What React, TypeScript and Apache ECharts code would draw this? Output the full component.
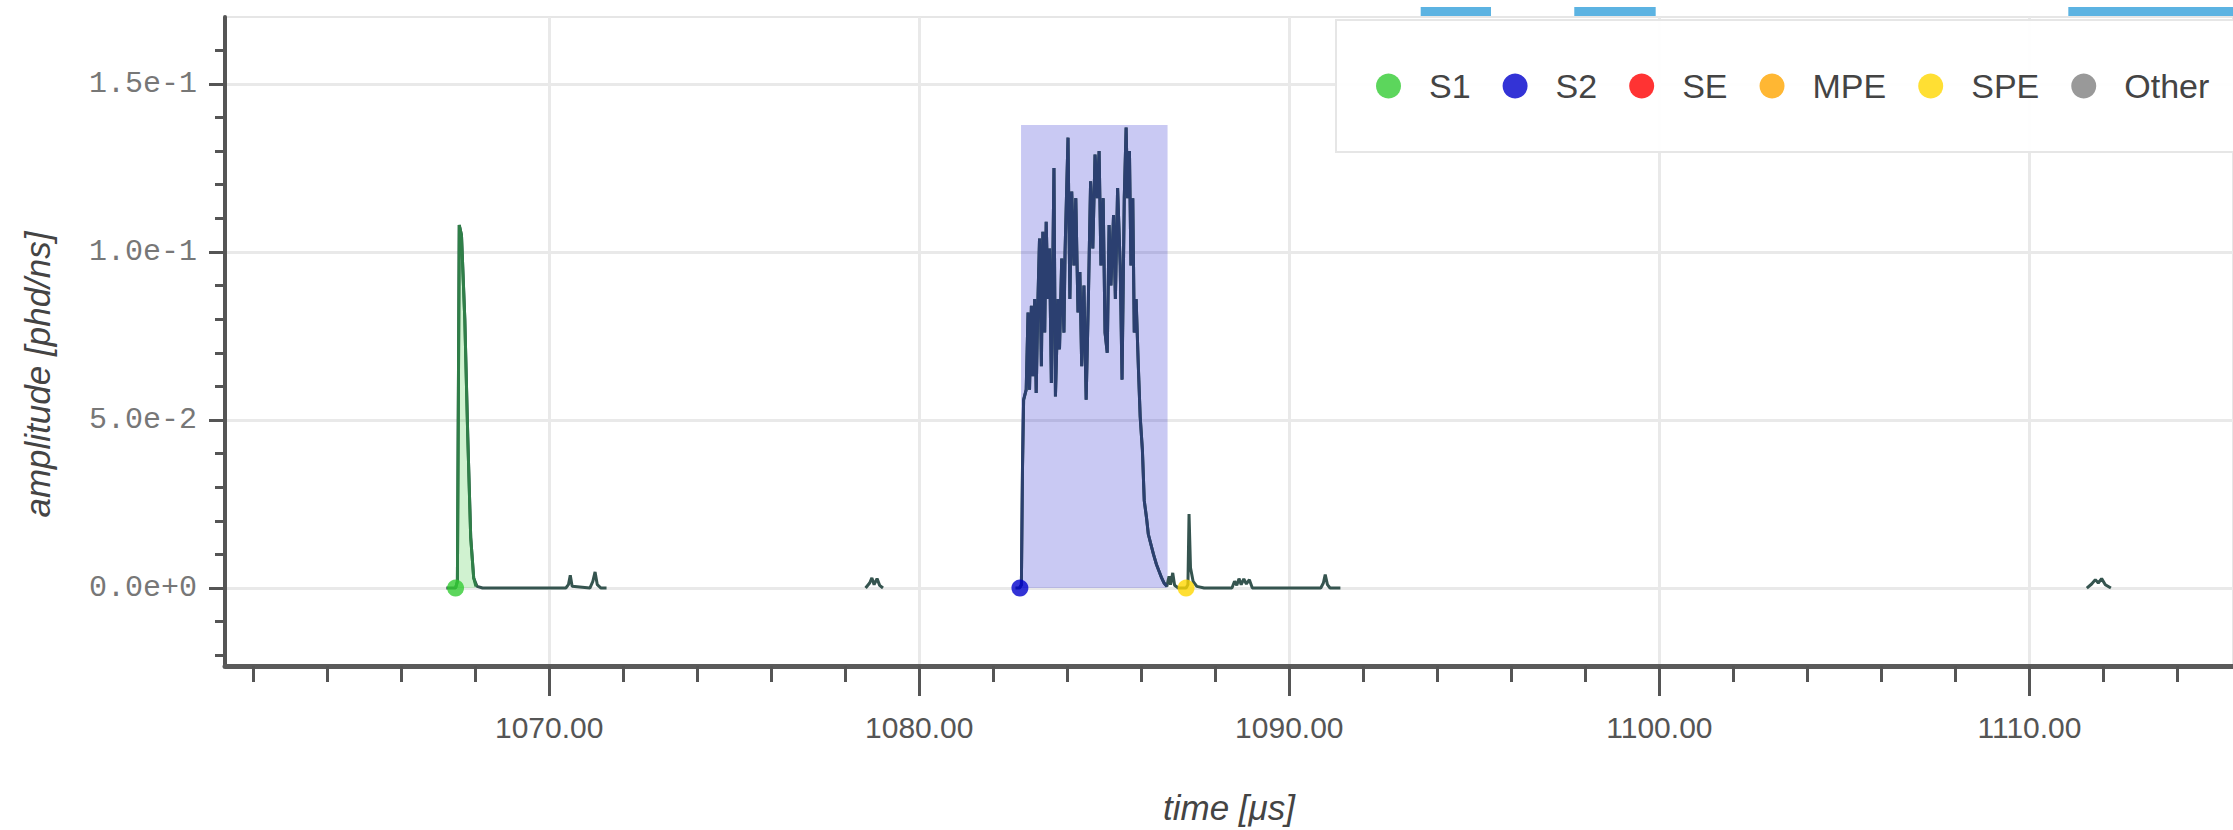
import React, { useEffect, useRef } from "react";
import * as echarts from "echarts";

// ---- axis ranges and ticks ----
const xMin = 1061.24;
const xMax = 1115.5;
const yMin = -0.0232;
const yMax = 0.1699;
const xMajorTicks = [1070, 1080, 1090, 1100, 1110];
const xMinorTicks = [1062, 1064, 1066, 1068, 1072, 1074, 1076, 1078, 1082, 1084, 1086, 1088, 1092, 1094, 1096, 1098, 1102, 1104, 1106, 1108, 1112, 1114];
const yMajorTicks = [0, 0.05, 0.1, 0.15];
const yMinorTicks = [-0.02, -0.01, 0.01, 0.02, 0.03, 0.04, 0.06, 0.07, 0.08, 0.09, 0.11, 0.12, 0.13, 0.14, 0.16];

// ---- legend ----
const legendNames = ["S1", "S2", "SE", "MPE", "SPE", "Other"];
const legendColors = ["#33cc33", "#0000cc", "#ff0000", "#ffa500", "#ffd700", "#808080"];

// ---- peak start markers (time, amplitude) ----
const s1Points = [[1067.47, 0]];
const s2Points = [[1082.72, 0]];
const spePoints = [[1087.21, 0]];

// ---- S2 highlight box [start, end, top] ----
const s2Box = [1082.75, 1086.71, 0.1378];

// ---- interval bars above the plot [start, end] ----
const topBars = [
  [1093.55, 1095.45],
  [1097.7, 1099.9],
  [1111.05, 1116.5],
];

// ---- summed waveform segments (time us, amplitude phd/ns) ----
const waveSegA = [
  [1067.22, 0], [1067.47, 0], [1067.52, 0.002], [1067.57, 0.108], [1067.63, 0.105],
  [1067.72, 0.08], [1067.8, 0.045], [1067.88, 0.015], [1067.96, 0.003], [1068.05, 0.0005],
  [1068.2, 0], [1070.45, 0], [1070.52, 0.001], [1070.57, 0.0038], [1070.62, 0.0005],
  [1071.1, 0], [1071.18, 0.002], [1071.24, 0.0048], [1071.3, 0.001], [1071.4, 0], [1071.55, 0],
];
const waveSegB = [
  [1078.55, 0], [1078.66, 0.0015], [1078.72, 0.003], [1078.78, 0.001], [1078.86, 0.0028],
  [1078.93, 0.0008], [1079.02, 0],
];
const s2Wave = [
  [1082.71, 0], [1082.76, 0.001], [1082.79, 0.036], [1082.82, 0.056], [1082.89, 0.059],
  [1082.94, 0.082], [1082.98, 0.059], [1083.03, 0.084], [1083.07, 0.063], [1083.12, 0.086],
  [1083.16, 0.058], [1083.21, 0.087], [1083.25, 0.104], [1083.3, 0.066], [1083.34, 0.106],
  [1083.39, 0.076], [1083.43, 0.109], [1083.48, 0.086], [1083.52, 0.101], [1083.57, 0.061],
  [1083.64, 0.125], [1083.68, 0.057], [1083.75, 0.086], [1083.79, 0.071], [1083.85, 0.098],
  [1083.91, 0.076], [1083.94, 0.1], [1084.02, 0.134], [1084.07, 0.086], [1084.12, 0.118],
  [1084.18, 0.096], [1084.23, 0.116], [1084.29, 0.082], [1084.34, 0.094], [1084.39, 0.066],
  [1084.45, 0.09], [1084.51, 0.056], [1084.57, 0.086], [1084.63, 0.121], [1084.69, 0.101],
  [1084.75, 0.129], [1084.81, 0.116], [1084.86, 0.13], [1084.91, 0.096], [1084.97, 0.116],
  [1085.02, 0.076], [1085.08, 0.07], [1085.13, 0.108], [1085.18, 0.09], [1085.25, 0.111],
  [1085.3, 0.086], [1085.36, 0.119], [1085.43, 0.096], [1085.48, 0.062], [1085.54, 0.116],
  [1085.59, 0.137], [1085.63, 0.116], [1085.68, 0.13], [1085.72, 0.096], [1085.77, 0.116],
  [1085.81, 0.076], [1085.86, 0.086], [1085.92, 0.066], [1085.97, 0.051], [1086.03, 0.041],
  [1086.08, 0.026], [1086.14, 0.021], [1086.19, 0.016], [1086.26, 0.013], [1086.33, 0.01],
  [1086.41, 0.007], [1086.48, 0.005], [1086.55, 0.003], [1086.62, 0.0014], [1086.69, 0.0005],
];
const waveSegCTail = [
  [1086.75, 0.0035], [1086.79, 0.001], [1086.85, 0.0045], [1086.9, 0.0008], [1087.0, 0],
  [1087.21, 0], [1087.26, 0.001], [1087.29, 0.022], [1087.33, 0.006], [1087.4, 0.002],
  [1087.5, 0.0005], [1087.7, 0], [1088.45, 0], [1088.52, 0.002], [1088.58, 0.0008],
  [1088.64, 0.0028], [1088.7, 0.001], [1088.77, 0.0027], [1088.84, 0.0012], [1088.92, 0.0025],
  [1089.0, 0], [1090.85, 0], [1090.92, 0.0015], [1090.97, 0.004], [1091.03, 0.001],
  [1091.1, 0], [1091.38, 0],
];
const waveSegD = [
  [1111.55, 0], [1111.68, 0.0012], [1111.78, 0.0025], [1111.86, 0.0015], [1111.95, 0.0028],
  [1112.05, 0.001], [1112.2, 0],
];
const s1Wave = [
  [1067.47, 0], [1067.52, 0.002], [1067.57, 0.108], [1067.63, 0.105], [1067.72, 0.08],
  [1067.8, 0.045], [1067.88, 0.015], [1067.96, 0.003], [1068.02, 0.0005],
];

const SANS = "'Liberation Sans', Arial, Helvetica, sans-serif";
const MONO = "'Liberation Mono', 'DejaVu Sans Mono', monospace";
const WAVE_COLOR = "#35544f";

export default function App() {
  const ref = useRef<HTMLDivElement>(null);

  useEffect(() => {
    if (!ref.current) return;
    const chart = echarts.init(ref.current, undefined, { renderer: "svg" });

    const waveLine = (name: string, data: number[][], color: string, z: number, extra: any = {}) => ({
      name,
      type: "line",
      data,
      showSymbol: false,
      symbol: "none",
      lineStyle: { color, width: 3 },
      itemStyle: { color },
      silent: true,
      z,
      ...extra,
    });

    const baseC = [[1082.6, 0], ...s2Wave, ...waveSegCTail];

    const markerSeries = (name: string, data: number[][], color: string) => ({
      name,
      type: "scatter",
      data,
      symbol: "circle",
      symbolSize: 17,
      itemStyle: { color },
      z: 10,
      silent: true,
    });

    const option: any = {
      animation: false,
      backgroundColor: "#ffffff",
      grid: {
        left: 225,
        right: -5,
        top: 17,
        bottom: 164,
        show: true,
        borderColor: "#e6e6e6",
        borderWidth: 2,
        backgroundColor: "transparent",
      },
      legend: {
        data: legendNames,
        left: 1336,
        top: 20,
        width: 1100,
        orient: "horizontal",
        icon: "circle",
        itemWidth: 25,
        itemHeight: 25,
        itemGap: 32,
        padding: [46, 70, 46, 40],
        backgroundColor: "rgba(255,255,255,0.95)",
        borderColor: "#e6e6e6",
        borderWidth: 2,
        selectedMode: false,
        textStyle: { fontSize: 34, lineHeight: 40, color: "#444", fontFamily: SANS, padding: [0, 0, 0, 23] },
      },
      xAxis: [
        {
          type: "value",
          min: xMin,
          max: xMax,
          position: "bottom",
          name: "time [\u03bcs]",
          nameLocation: "middle",
          nameGap: 124,
          nameTextStyle: { fontSize: 35, fontStyle: "italic", color: "#444", fontFamily: SANS },
          axisLine: { show: true, onZero: false, lineStyle: { color: "#5a5a5a", width: 5 } },
          axisTick: { show: true, customValues: xMajorTicks, length: 30, lineStyle: { color: "#555", width: 3 } },
          axisLabel: {
            show: true,
            customValues: xMajorTicks,
            margin: 46,
            fontSize: 30,
            color: "#555",
            fontFamily: SANS,
            formatter: (v: number) => v.toFixed(2),
          },
          splitLine: { show: true, lineStyle: { color: "#e9e9e9", width: 3 } },
        },
        {
          type: "value",
          min: xMin,
          max: xMax,
          position: "bottom",
          axisLine: { show: false, onZero: false },
          axisTick: { show: true, customValues: xMinorTicks, length: 16, lineStyle: { color: "#555", width: 3 } },
          axisLabel: { show: false },
          splitLine: { show: false },
        },
      ],
      yAxis: [
        {
          type: "value",
          min: yMin,
          max: yMax,
          position: "left",
          name: "amplitude [phd/ns]",
          nameLocation: "middle",
          nameRotate: 90,
          nameGap: 170,
          nameTextStyle: { fontSize: 35, fontStyle: "italic", color: "#444", fontFamily: SANS, padding: [0, 66, 0, 0] },
          axisLine: { show: true, onZero: false, lineStyle: { color: "#555", width: 4 } },
          axisTick: { show: true, customValues: yMajorTicks, length: 16, lineStyle: { color: "#555", width: 3 } },
          axisLabel: {
            show: true,
            customValues: yMajorTicks,
            margin: 28,
            fontSize: 30,
            color: "#777",
            fontFamily: MONO,
            formatter: (v: number) => v.toExponential(1),
          },
          splitLine: { show: true, lineStyle: { color: "#e9e9e9", width: 3 } },
        },
        {
          type: "value",
          min: yMin,
          max: yMax,
          position: "left",
          axisLine: { show: false, onZero: false },
          axisTick: { show: true, customValues: yMinorTicks, length: 10, lineStyle: { color: "#555", width: 3 } },
          axisLabel: { show: false },
          splitLine: { show: false },
        },
      ],
      series: [
        {
          name: "_box",
          type: "line",
          data: [],
          silent: true,
          z: 1,
          markArea: {
            silent: true,
            itemStyle: { color: "rgba(0,0,200,0.21)" },
            data: [[{ xAxis: s2Box[0], yAxis: 0 }, { xAxis: s2Box[1], yAxis: s2Box[2] }]],
          },
        },
        {
          name: "_bars",
          type: "custom",
          data: topBars,
          encode: { x: [0, 1] },
          clip: false,
          silent: true,
          z: 1,
          renderItem: (params: any, api: any) => {
            const s = api.coord([api.value(0), yMax]);
            const e = api.coord([api.value(1), yMax]);
            return {
              type: "rect",
              shape: { x: s[0], y: s[1] - 10, width: e[0] - s[0], height: 9 },
              style: { fill: "#5cb3e2" },
            };
          },
        },
        waveLine("_waveA", waveSegA, WAVE_COLOR, 3),
        waveLine("_waveB", waveSegB, WAVE_COLOR, 3),
        waveLine("_waveC", baseC, WAVE_COLOR, 3),
        waveLine("_waveD", waveSegD, WAVE_COLOR, 3),
        waveLine("_s1wave", s1Wave, "#2f7f48", 4, {
          areaStyle: { color: "rgba(60,200,60,0.35)", origin: 0 },
        }),
        waveLine("_s2wave", s2Wave, "#2b3f70", 4),
        markerSeries("S1", s1Points, legendColors[0]),
        markerSeries("S2", s2Points, legendColors[1]),
        markerSeries("SE", [], legendColors[2]),
        markerSeries("MPE", [], legendColors[3]),
        markerSeries("SPE", spePoints, legendColors[4]),
        markerSeries("Other", [], legendColors[5]),
      ],
    };

    chart.setOption(option);
    return () => chart.dispose();
  }, []);

  return (
    <div
      ref={ref}
      style={{ position: "absolute", left: 0, top: 0, width: 2233, height: 830, background: "#fff" }}
    />
  );
}
